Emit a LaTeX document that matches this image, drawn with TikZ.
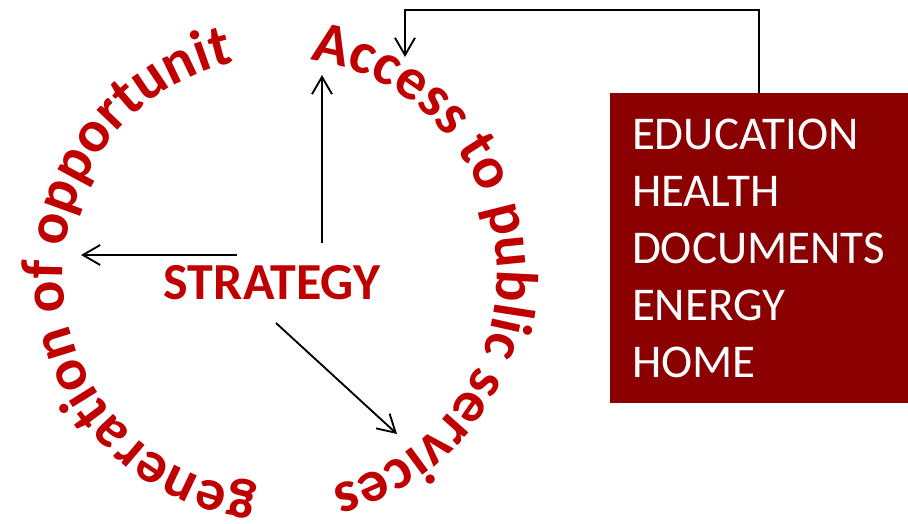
\documentclass[tikz,border=0pt]{standalone}
\usepackage{fontspec}
\setmainfont{Carlito}
\usetikzlibrary{arrows.meta,decorations.text}
\definecolor{curvered}{RGB}{192,0,0}
\definecolor{boxred}{RGB}{139,0,0}
\newcommand{\curvefont}{\bfseries\fontsize{44.4}{52}\selectfont}
\tikzset{
  arc text/.style={decorate, decoration={text along path, text color=curvered, text={|\curvefont|#1}}},
  link/.style={->, line width=1.4pt},
  listbox/.style={fill=boxred, text=white, align=left, text width=190.5pt, inner xsep=16.5pt,
    minimum height=232.5pt, font=\fontsize{35.25}{42.75}\selectfont},
  >={Straight Barb[length=13pt,width=15pt]}
}

\begin{document}
\begin{tikzpicture}[x=0.75pt,y=0.75pt]
    \useasboundingbox (0,0) rectangle (908,524);
    \coordinate (c) at (280,249);
    \path [arc text={Access to public services}] ([shift={(82:217)}]c) arc[start angle=82, end angle=-100, radius=217];
    \path [arc text={generation of opportunit}] ([shift={(264:217)}]c) arc[start angle=264, end angle=80, radius=217];
    \node (strat) at (272,241) {\bfseries\fontsize{39}{46}\selectfont\color{curvered}STRATEGY};
    \node [listbox] (list) at (759,276) {EDUCATION\\HEALTH\\DOCUMENTS\\ENERGY\\HOME};
    \coordinate (upA) at (322,281);
    \coordinate (upB) at (322,449);
    \coordinate (leftA) at (237,269);
    \coordinate (leftB) at (81,269);
    \coordinate (downA) at (276,201);
    \coordinate (downB) at (397,90);
    \coordinate (bend) at (405,514);
    \coordinate (access) at (405,467);
    \draw [link] (upA) to (upB);
    \draw [link] (leftA) to (leftB);
    \draw [link] (downA) to (downB);
    \draw [link] (list.north) |- (bend) to (access);
  \end{tikzpicture}
\end{document}
